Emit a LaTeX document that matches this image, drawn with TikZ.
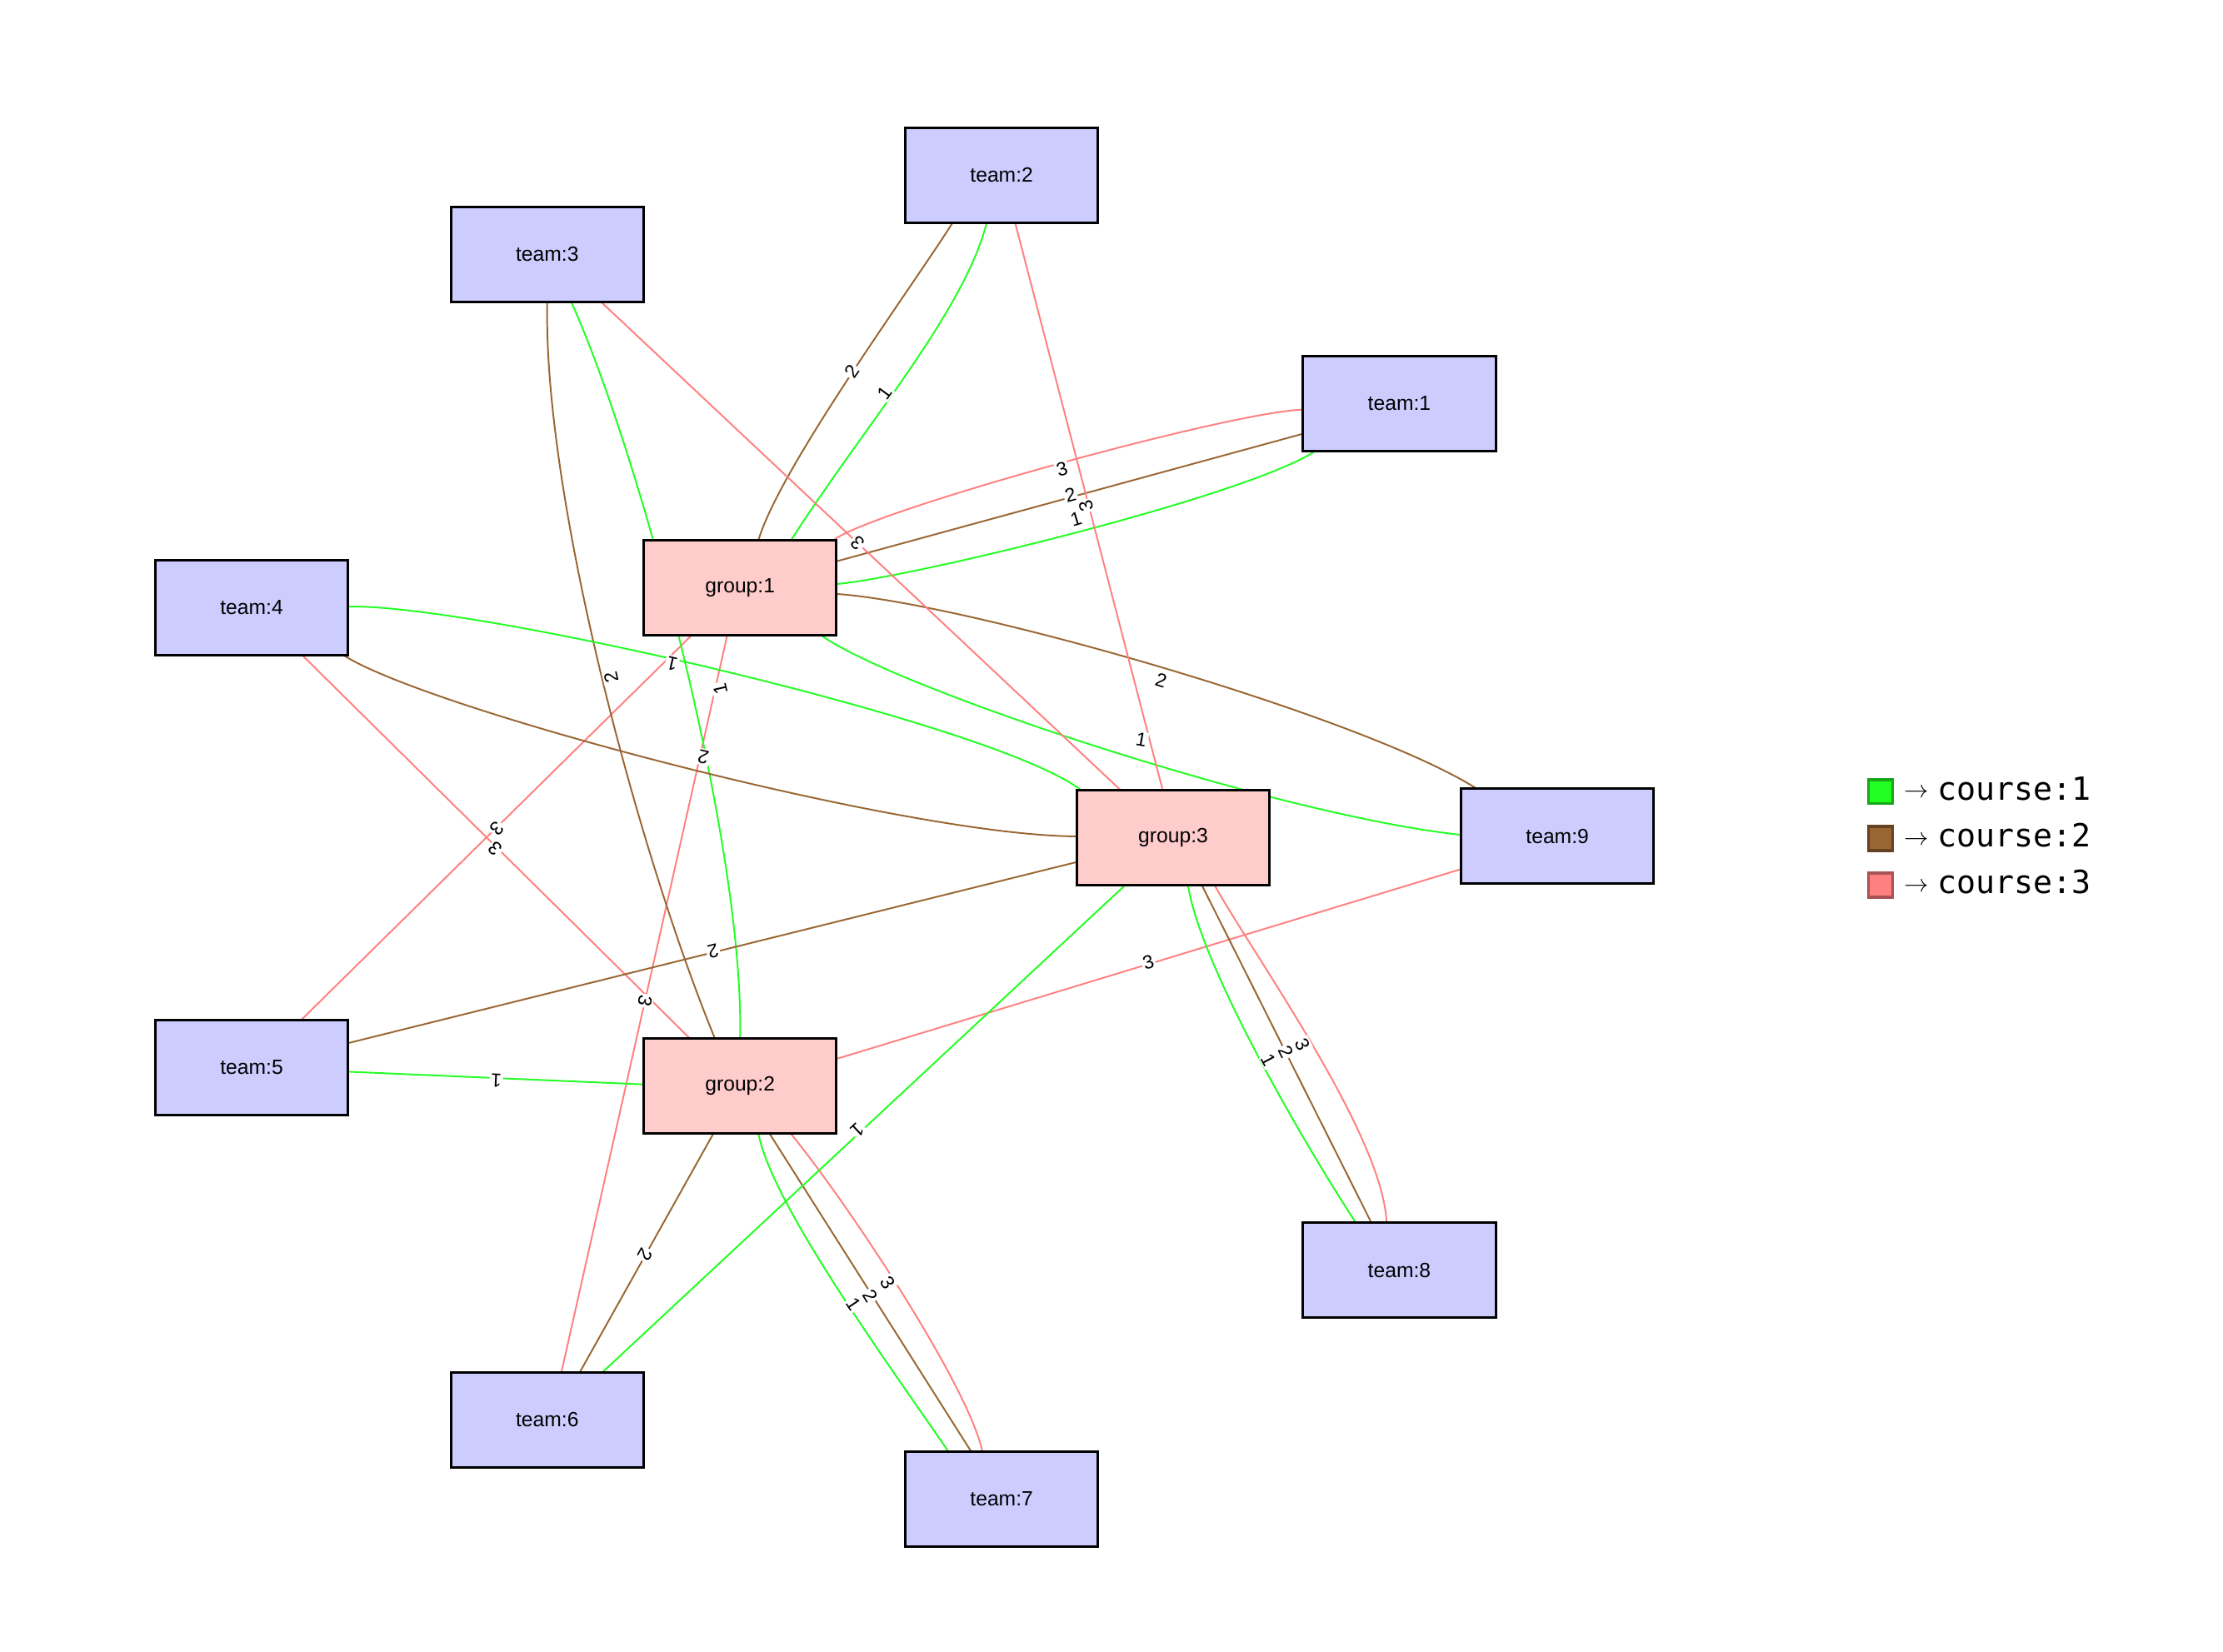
\documentclass[tikz,border=0pt]{standalone}
\usepackage{fontspec}
\setmainfont{Liberation Sans}
\newfontfamily\legfont{DejaVu Sans Mono}
\usetikzlibrary{calc}
\pgfdeclarelayer{bg}
\pgfsetlayers{bg,main}
\definecolor{cgreen}{RGB}{34,255,34}
\definecolor{cbrown}{RGB}{153,102,51}
\definecolor{cpink}{RGB}{255,128,128}
\definecolor{teamfill}{RGB}{204,204,255}
\definecolor{grpfill}{RGB}{255,204,204}
\newcommand{\legarrow}{\raisebox{1.5pt}{\fontsize{17}{20}\selectfont$\rightarrow$}\hspace{6pt}}
\begin{document}
\begin{tikzpicture}[x=1pt,y=-1pt,
  team/.style={draw=black, line width=1.8pt, fill=teamfill, minimum width=136pt, minimum height=67pt, inner sep=0pt, font=\fontsize{14.5}{17}\selectfont},
  grp/.style={team, fill=grpfill},
  cA/.style={draw=cgreen, line width=1.15pt},
  cB/.style={draw=cbrown, line width=1.15pt},
  cC/.style={draw=cpink, line width=1.15pt},
  lab/.style={fill=white, inner sep=1pt, font=\fontsize{13.5}{16}\selectfont},
  legsq/.style={minimum width=17pt, minimum height=17pt, inner sep=0pt, line width=2pt},
  legtxt/.style={anchor=base west, inner sep=0pt, font=\legfont\fontsize{22.5}{26}\selectfont}
]
\useasboundingbox (0,0) rectangle (1568,1165);

% nodes
\node[team] (T1) at (987,284.5) {team:1};
\node[team] (T2) at (706.5,123.5) {team:2};
\node[team] (T3) at (386,179.5) {team:3};
\node[team] (T4) at (177.5,428.5) {team:4};
\node[team] (T5) at (177.5,753) {team:5};
\node[team] (T6) at (386,1001.5) {team:6};
\node[team] (T7) at (706.5,1057.5) {team:7};
\node[team] (T8) at (987,896) {team:8};
\node[team] (T9) at (1098.5,590) {team:9};
\node[grp] (G1) at (522,414.5) {group:1};
\node[grp] (G2) at (522,766) {group:2};
\node[grp] (G3) at (827.5,591) {group:3};

\begin{pgfonlayer}{bg}
% group:1
\draw[cB] ($(G1)+(13,-33.5)$) .. controls (550,330) and (645,200) .. ($(T2)+(-34.5,33.5)$);
\draw[cA] ($(G1)+(36,-33.5)$) .. controls (610,300) and (680,220) .. ($(T2)+(-10.5,33.5)$);
\draw[cC] ($(G1)+(66,-33.5)$) .. controls (615,360) and (870,290) .. ($(T1)+(-68,4.5)$);
\draw[cB] ($(G1)+(68,-18.5)$) -- ($(T1)+(-68,21.5)$);
\draw[cA] ($(G1)+(68,-2.5)$) .. controls (640,408) and (880,350) .. ($(T1)+(-59,33.5)$);
\draw[cB] ($(G1)+(68,4.5)$) .. controls (680,425) and (960,505) .. ($(T9)+(-57.5,-34)$);
\draw[cA] ($(G1)+(57,33.5)$) .. controls (630,485) and (900,575) .. ($(T9)+(-67.5,-1)$);
\draw[cC] ($(G1)+(-34,33.5)$) -- ($(T5)+(35.5,-34)$);
\draw[cC] ($(G1)+(-9,33.5)$) -- ($(T6)+(10,-33.5)$);
% group:2
\draw[cA] ($(G2)+(-68,-1)$) -- ($(T5)+(67.5,3)$);
\draw[cB] ($(G2)+(-18,-34)$) .. controls (450,600) and (383,350) .. ($(T3)+(0,33.5)$);
\draw[cA] ($(G2)+(0,-34)$) .. controls (525,600) and (455,330) .. ($(T3)+(17,33.5)$);
\draw[cC] ($(G2)+(-36,-34)$) -- ($(T4)+(35.5,33.5)$);
\draw[cB] ($(G2)+(-19,34)$) -- ($(T6)+(23,-33.5)$);
\draw[cA] ($(G2)+(13,34)$) .. controls (545,850) and (625,960) .. ($(T7)+(-37.5,-33.5)$);
\draw[cB] ($(G2)+(21,34)$) -- ($(T7)+(-21.5,-33.5)$);
\draw[cC] ($(G2)+(36,34)$) .. controls (595,845) and (682,975) .. ($(T7)+(-13.5,-33.5)$);
\draw[cC] ($(G2)+(68,-19)$) -- ($(T9)+(-67.5,23)$);
% group:3
\draw[cC] ($(G3)+(-7.5,-34)$) -- ($(T2)+(9.5,33.5)$);
\draw[cC] ($(G3)+(-37.5,-34)$) -- ($(T3)+(38,33.5)$);
\draw[cA] ($(G3)+(-65.5,-34)$) .. controls (700,510) and (330,425) .. ($(T4)+(67.5,-0.5)$);
\draw[cB] ($(G3)+(-67.5,-1)$) .. controls (640,590) and (300,500) .. ($(T4)+(64.5,33.5)$);
\draw[cB] ($(G3)+(-67.5,17)$) -- ($(T5)+(67.5,-17)$);
\draw[cA] ($(G3)+(-34.5,34)$) -- ($(T6)+(39,-33.5)$);
\draw[cA] ($(G3)+(10.5,34)$) .. controls (848,685) and (925,815) .. ($(T8)+(-31,-34)$);
\draw[cB] ($(G3)+(20.5,34)$) -- ($(T8)+(-20,-34)$);
\draw[cC] ($(G3)+(29.5,34)$) .. controls (885,675) and (975,800) .. ($(T8)+(-9,-34)$);
\end{pgfonlayer}

% edge labels
\node[lab, rotate=55] (l1) at (601,262) {2};
\node[lab, rotate=54] (l2) at (624,277) {1};
\node[lab, rotate=16] (l3) at (749,331) {3};
\node[lab, rotate=15] (l4) at (755,349) {2};
\node[lab, rotate=17] (l5) at (759,366) {1};
\node[lab, rotate=104.6] (l6) at (766,357) {3};
\node[lab, rotate=136.8] (l7) at (605,383) {3};
\node[lab, rotate=-17] (l8) at (819,480) {2};
\node[lab, rotate=-10] (l9) at (805,522) {1};
\node[lab, rotate=-135.4] (l10) at (350.5,584.5) {3};
\node[lab, rotate=135.3] (l11) at (349.5,598.5) {3};
\node[lab, rotate=-102.7] (l12) at (455,706) {3};
\node[lab, rotate=103] (l13) at (508,486) {1};
\node[lab, rotate=103] (l14) at (431,478) {2};
\node[lab, rotate=167] (l15) at (474,468) {1};
\node[lab, rotate=166.5] (l16) at (496,534) {2};
\node[lab, rotate=-166] (l17) at (503,671) {2};
\node[lab, rotate=177] (l18) at (350,762) {1};
\node[lab, rotate=-119] (l19) at (455,885) {2};
\node[lab, rotate=-137] (l20) at (605,797) {1};
\node[lab, rotate=17] (l21) at (810,679) {3};
\node[lab, rotate=-56] (l22) at (602,920) {1};
\node[lab, rotate=-57.7] (l23) at (614,914) {2};
\node[lab, rotate=-58] (l24) at (626,905) {3};
\node[lab, rotate=-62] (l25) at (895,748) {1};
\node[lab, rotate=-63] (l26) at (907,742) {2};
\node[lab, rotate=-64] (l27) at (919,737) {3};

% legend
\node[legsq, fill=cgreen, draw=cgreen!66!black] (k1) at (1326.5,558.5) {};
\node[legsq, fill=cbrown, draw=cbrown!66!black] (k2) at (1326.5,591.5) {};
\node[legsq, fill=cpink, draw=cpink!66!black] (k3) at (1326.5,624.5) {};
\node[legtxt] (k1t) at (1343,564.5) {\legarrow course:1};
\node[legtxt] (k2t) at (1343,597.5) {\legarrow course:2};
\node[legtxt] (k3t) at (1343,630.5) {\legarrow course:3};
\end{tikzpicture}
\end{document}
